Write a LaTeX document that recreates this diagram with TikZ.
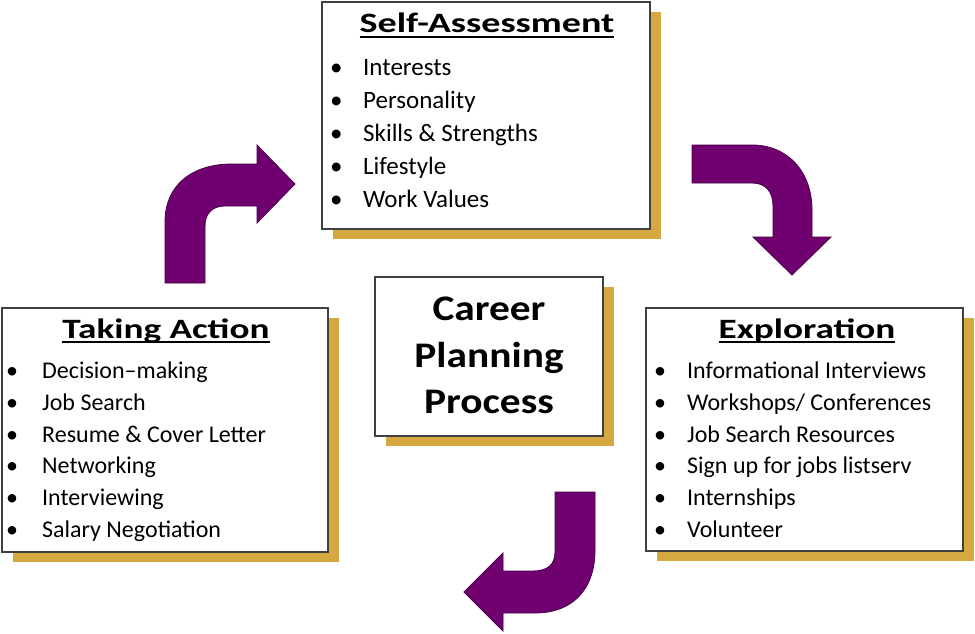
\documentclass[tikz,border=0pt]{standalone}
\usepackage{fontspec}
\setmainfont{Carlito}
\usepackage{graphicx}
\usetikzlibrary{positioning}
\usetikzlibrary{shadows}
\definecolor{plum}{RGB}{112,0,112}
\definecolor{plumdark}{RGB}{72,0,72}
\definecolor{gold}{RGB}{214,168,66}
\definecolor{frame}{RGB}{64,64,64}

% bold, widened and underlined box heading
\newcommand{\heading}[2][1.33]{\scalebox{#1}[1]{\setbox0\hbox{\bfseries #2}\rlap{\usebox0}\rule[-5pt]{\wd0}{1.8pt}}}

\begin{document}
\begin{tikzpicture}[
            x = 1pt, y = -1pt, % pixel grid, y pointing down
            box/.style = {draw = frame, line width = 1.3pt, fill = white, inner sep = 0pt,
                drop shadow = {shadow xshift = 11pt, shadow yshift = -10pt, fill = gold, opacity = 1}},
            item/.style = {anchor = base west, inner sep = 0pt, font = \fontsize{24}{28}\selectfont},
            title/.style = {anchor = base, inner sep = 0pt, font = \fontsize{28}{32}\selectfont},
            bigarrow/.style = {fill = plum, draw = plumdark, line width = 0.8pt}
        ]

        \useasboundingbox (0,0) rectangle (975,634);

	% boxes
        \node[box, minimum width = 328pt, minimum height = 227pt] (self) at (486,115.5) {};
        \node[box, minimum width = 326pt, minimum height = 244pt] (action) at (165,430) {};
        \node[box, minimum width = 317pt, minimum height = 243pt] (explore) at (804.5,429.5) {};
        \node[box, minimum width = 228pt, minimum height = 159pt] (career) at (489,356.5) {};

         % headings
         \node[title] (self-title) at (487,33) {\heading[1.36]{Self-Assessment}};
         \node[title] (action-title) at (166,338) {\heading{Taking Action}};
         \node[title] (explore-title) at (807,338) {\heading{Exploration}};
         \node[inner sep = 0pt, font = \fontsize{36}{46.5}\selectfont\bfseries] (career-text) at (489,358)
             {\scalebox{1.15}[1]{\begin{tabular}{@{}c@{}}Career\\Planning\\Process\end{tabular}}};

         % lists
         \foreach \t [count=\i from 0] in {Interests, Personality, Skills \& Strengths, Lifestyle, Work Values}
             \node[item, font = \fontsize{25}{28}\selectfont] (self-\i) at (330,{75+33.2*\i}) {\makebox[33pt][l]{\textbullet}\t};
         \foreach \t [count=\i from 0] in {Decision--making, Job Search, Resume \& Cover Letter, Networking, Interviewing, Salary Negotiation}
             \node[item] (action-\i) at (6,{378.5+31.8*\i}) {\makebox[36pt][l]{\textbullet}\t};
         \foreach \t [count=\i from 0] in {Informational Interviews, Workshops/ Conferences, Job Search Resources, Sign up for jobs listserv, Internships, Volunteer}
             \node[item] (explore-\i) at (654,{378.5+31.8*\i}) {\makebox[33pt][l]{\textbullet}\t};

          % cycle arrows
          \draw[bigarrow] (165,283) -- (165,222) .. controls (165,185) and (192,164) .. (232,164) -- (257,164)
              -- (257,145) -- (295,184) -- (257,223) -- (257,206) -- (225,206)
              .. controls (213,206) and (205,213) .. (205,226) -- (205,283) -- cycle;
          \draw[bigarrow] (692,145) -- (752,145) .. controls (788,145) and (812,172) .. (812,210) -- (812,237)
              -- (831,237) -- (792,275) -- (753,237) -- (773,237) -- (773,206)
              .. controls (773,192) and (766,183) .. (752,183) -- (692,183) -- cycle;
          \draw[bigarrow] (555,492) -- (595,492) -- (595,550) .. controls (595,590) and (572,613) .. (535,613)
              -- (503,613) -- (503,631) -- (464,592) -- (503,553) -- (503,571) -- (533,571)
              .. controls (547,571) and (555,565) .. (555,552) -- cycle;

  \end{tikzpicture}
\end{document}
